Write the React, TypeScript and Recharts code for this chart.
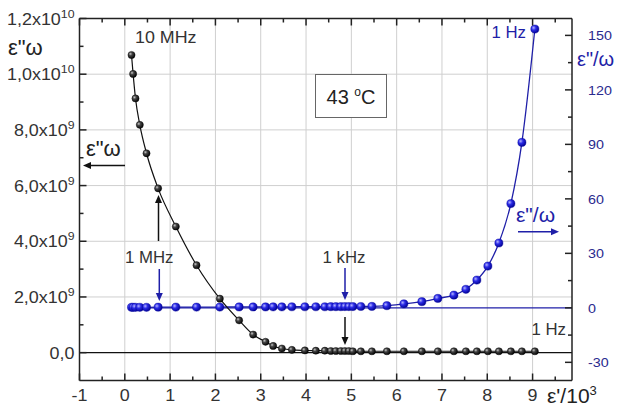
import React from "react";
import { LineChart, Line, XAxis, YAxis, CartesianGrid, ReferenceLine } from "recharts";

// ε' / 10^3 (shared abscissa of both series)
const epsPrime = [
  0.148, 0.183, 0.236, 0.331, 0.479, 0.735, 1.126, 1.583, 2.097, 2.523,
  2.832, 3.106, 3.274, 3.466, 3.687, 3.974, 4.216, 4.415, 4.547, 4.658,
  4.768, 4.857, 4.945, 5.033, 5.21, 5.453, 5.784, 6.159, 6.556, 6.909,
  7.263, 7.528, 7.77, 8.013, 8.256, 8.521, 8.764, 9.05,
];
// ε''ω (left axis)
const epsOmega = [
  1.069e10, 1.001e10, 9.13e9, 8.18e9, 7.16e9, 5.9e9, 4.53e9, 3.14e9, 1.94e9, 1.16e9,
  6.5e8, 3.9e8, 2.4e8, 1.5e8, 1.0e8, 8e7, 7e7, 7e7, 6e7, 6e7,
  6e7, 6e7, 6e7, 5e7, 5e7, 5e7, 5e7, 5e7, 5e7, 5e7,
  5e7, 5e7, 5e7, 5e7, 5e7, 5e7, 5e7, 5e7,
];
// ε''/ω (right axis)
const epsOverOmega = [
  0.3, 0.3, 0.3, 0.3, 0.3, 0.35, 0.4, 0.4, 0.45, 0.5,
  0.5, 0.5, 0.55, 0.55, 0.6, 0.6, 0.6, 0.6, 0.65, 0.65,
  0.65, 0.7, 0.7, 0.7, 0.75, 0.8, 1.2, 2.2, 3.4, 5.2,
  7.0, 10.2, 15.3, 23.0, 35.7, 57.4, 91.1, 153.5,
];

const xTicks = [-1, -0.5, 0, 0.5, 1, 1.5, 2, 2.5, 3, 3.5, 4, 4.5, 5, 5.5, 6, 6.5, 7, 7.5, 8, 8.5, 9, 9.5];
const xGrid = [0, 1, 2, 3, 4, 5, 6, 7, 8, 9];
const leftTicks = [0, 1e9, 2e9, 3e9, 4e9, 5e9, 6e9, 7e9, 8e9, 9e9, 1e10, 1.1e10, 1.2e10];
const leftGrid = [2e9, 4e9, 6e9, 8e9, 1e10];
const rightTicks = [-30, -15, 0, 15, 30, 45, 60, 75, 90, 105, 120, 135, 150];

const X_DOMAIN: [number, number] = [-1, 9.87];
const LEFT_DOMAIN: [number, number] = [-1e9, 1.2e10];
const RIGHT_DOMAIN: [number, number] = [-40, 159.3];

const data = epsPrime.map((x, i) => ({ x, a: epsOmega[i], b: epsOverOmega[i] }));

const FONT = "'Liberation Sans', Arial, Helvetica, sans-serif";
const AXIS = "#222";
const NAVY = "#2a2a8e";
const BLUE = "#1f1fa8";

const isMajorHalf = (v: number) => Math.abs(v - Math.round(v)) < 1e-6;

const BottomTick = (p: any) => {
  const { x, y, payload } = p;
  const v = payload.value;
  const major = isMajorHalf(v);
  return (
    <g>
      <line x1={x} x2={x} y1={y} y2={y - (major ? 7 : 4)} stroke={AXIS} strokeWidth={1.5} />
      {major && (
        <text
          transform={`translate(${x},${y + 20}) scale(1.12,1)`}
          textAnchor="middle"
          fontFamily={FONT}
          fontSize={16}
          fill="#333"
        >
          {v}
        </text>
      )}
    </g>
  );
};

const TopTick = (p: any) => {
  const { x, y, payload } = p;
  const major = isMajorHalf(payload.value);
  return <line x1={x} x2={x} y1={y} y2={y + (major ? 7 : 4)} stroke={AXIS} strokeWidth={1.5} />;
};

const LeftTick = (p: any) => {
  const { x, y, payload } = p;
  const v = payload.value as number;
  const major = Math.round(v / 1e9) % 2 === 0;
  let label: React.ReactNode = null;
  if (major) {
    if (v === 0) {
      label = "0,0";
    } else {
      const e = Math.floor(Math.log10(v) + 1e-9);
      const m = (v / Math.pow(10, e)).toFixed(1).replace(".", ",");
      label = (
        <>
          {m + "x10"}
          <tspan dy={-7} fontSize={11}>
            {e}
          </tspan>
        </>
      );
    }
  }
  return (
    <g>
      <line x1={x} x2={x + (major ? 7 : 4)} y1={y} y2={y} stroke={AXIS} strokeWidth={1.5} />
      {major && (
        <text
          transform={`translate(${x - 5},${y + 6}) scale(1.12,1)`}
          textAnchor="end"
          fontFamily={FONT}
          fontSize={16}
          fill="#333"
        >
          {label}
        </text>
      )}
    </g>
  );
};

const RightTick = (p: any) => {
  const { x, y, payload } = p;
  const v = payload.value as number;
  const major = v % 30 === 0;
  return (
    <g>
      <line x1={x} x2={x - (major ? 7 : 4)} y1={y} y2={y} stroke={AXIS} strokeWidth={1.5} />
      {major && (
        <text
          transform={`translate(${x + 16},${y + 5}) scale(1.1,1)`}
          textAnchor="start"
          fontFamily={FONT}
          fontSize={13}
          fill={NAVY}
        >
          {v}
        </text>
      )}
    </g>
  );
};

const Arrow = ({ x1, y1, x2, y2, color }: any) => {
  const ang = Math.atan2(y2 - y1, x2 - x1);
  const L = 8;
  const W = 3.5;
  const bx = x2 - L * Math.cos(ang);
  const by = y2 - L * Math.sin(ang);
  const px = -Math.sin(ang) * W;
  const py = Math.cos(ang) * W;
  return (
    <g>
      <line x1={x1} y1={y1} x2={bx} y2={by} stroke={color} strokeWidth={1.5} />
      <polygon points={`${x2},${y2} ${bx + px},${by + py} ${bx - px},${by - py}`} fill={color} />
    </g>
  );
};

const blackDot = (p: any) => (
  <circle key={`k${p.index}`} cx={p.cx} cy={p.cy} r={3.6} fill="url(#sphK)" stroke="#000" strokeWidth={0.4} />
);
const blueDot = (p: any) => (
  <circle key={`b${p.index}`} cx={p.cx} cy={p.cy} r={4.1} fill="url(#sphB)" stroke="#0000a0" strokeWidth={0.4} />
);

export default function App() {
  return (
    <div style={{ position: "absolute", left: 0, top: 0, width: 630, height: 410, background: "#fff" }}>
      <svg width={0} height={0} style={{ position: "absolute" }}>
        <defs>
          <radialGradient id="sphK" cx="0.35" cy="0.35" r="0.7">
            <stop offset="0" stopColor="#c8c8c8" />
            <stop offset="0.35" stopColor="#444" />
            <stop offset="1" stopColor="#000" />
          </radialGradient>
          <radialGradient id="sphB" cx="0.35" cy="0.35" r="0.7">
            <stop offset="0" stopColor="#b4b4ff" />
            <stop offset="0.4" stopColor="#2b2be6" />
            <stop offset="1" stopColor="#000090" />
          </radialGradient>
        </defs>
      </svg>
      <LineChart
        width={630}
        height={410}
        data={data}
        margin={{ top: 17.5, right: 0, left: 0, bottom: 0 }}
        style={{ position: "absolute", left: 0, top: 0 }}
      >
        <CartesianGrid
          xAxisId={0}
          yAxisId="left"
          stroke="#cfcfcf"
          strokeWidth={1}
          verticalValues={xGrid}
          horizontalValues={leftGrid}
        />
        <XAxis
          xAxisId={0}
          type="number"
          dataKey="x"
          domain={X_DOMAIN}
          allowDataOverflow
          ticks={xTicks}
          interval={0}
          height={29.5}
          tickLine={false}
          tickSize={0}
          tickMargin={0}
          axisLine={{ stroke: AXIS, strokeWidth: 1.5 }}
          tick={(p: any) => <BottomTick {...p} />}
        />
        <XAxis
          xAxisId="top"
          orientation="top"
          type="number"
          dataKey="x"
          domain={X_DOMAIN}
          allowDataOverflow
          ticks={xTicks}
          interval={0}
          height={1}
          tickLine={false}
          tickSize={0}
          tickMargin={0}
          axisLine={{ stroke: AXIS, strokeWidth: 1.5 }}
          tick={(p: any) => <TopTick {...p} />}
        />
        <YAxis
          yAxisId="left"
          type="number"
          domain={LEFT_DOMAIN}
          allowDataOverflow
          ticks={leftTicks}
          interval={0}
          width={79.5}
          tickLine={false}
          tickSize={0}
          tickMargin={0}
          axisLine={{ stroke: AXIS, strokeWidth: 1.5 }}
          tick={(p: any) => <LeftTick {...p} />}
        />
        <YAxis
          yAxisId="right"
          orientation="right"
          type="number"
          domain={RIGHT_DOMAIN}
          allowDataOverflow
          ticks={rightTicks}
          interval={0}
          width={58}
          tickLine={false}
          tickSize={0}
          tickMargin={0}
          axisLine={{ stroke: AXIS, strokeWidth: 1.5 }}
          tick={(p: any) => <RightTick {...p} />}
        />
        <ReferenceLine yAxisId="left" y={0} stroke="#111" strokeWidth={1.3} />
        <ReferenceLine
          yAxisId="right"
          segment={[
            { x: epsPrime[0], y: 0 },
            { x: X_DOMAIN[1], y: 0 },
          ]}
          stroke={BLUE}
          strokeWidth={1.3}
        />
        <Line
          yAxisId="right"
          type="monotone"
          dataKey="b"
          stroke={BLUE}
          strokeWidth={1.3}
          dot={blueDot}
          activeDot={false}
          isAnimationActive={false}
        />
        <Line
          yAxisId="left"
          type="monotone"
          dataKey="a"
          stroke="#111"
          strokeWidth={1.2}
          dot={blackDot}
          activeDot={false}
          isAnimationActive={false}
        />
      </LineChart>
      <svg
        width={630}
        height={410}
        style={{ position: "absolute", left: 0, top: 0, pointerEvents: "none" }}
        fontFamily={FONT}
      >
        {/* left axis title */}
        <text x={8} y={55} fontSize={22} fill="#222">ε"ω</text>
        <text x={86} y={156} fontSize={22} fill="#222">ε"ω</text>
        <Arrow x1={125} y1={165.5} x2={83} y2={165.5} color="#111" />

        <text transform="translate(135,42.5) scale(1.05,1)" fontSize={17} fill="#333">10 MHz</text>

        <rect x={315.5} y={74.5} width={71} height={43} fill="#fff" stroke="#666" strokeWidth={1} />
        <text x={351} y={104} textAnchor="middle" fontSize={20} fill="#222">
          43 <tspan dy={-8} fontSize={12}>o</tspan>
          <tspan dy={8}>C</tspan>
        </text>

        <text transform="translate(125,263) scale(1.05,1)" fontSize={16} fill="#333">1 MHz</text>
        <Arrow x1={159.3} y1={269} x2={159.3} y2={301} color={BLUE} />
        <Arrow x1={158.5} y1={241} x2={158.5} y2={195} color="#111" />

        <text transform="translate(322.5,263) scale(1.05,1)" fontSize={16} fill="#333">1 kHz</text>
        <Arrow x1={345} y1={268} x2={345} y2={300} color={BLUE} />
        <Arrow x1={345} y1={317} x2={345} y2={345} color="#111" />

        <text transform="translate(491.5,38) scale(1.05,1)" fontSize={16} fill={BLUE}>1 Hz</text>
        <text transform="translate(531.5,335) scale(1.05,1)" fontSize={16} fill="#333">1 Hz</text>

        <text x={516} y={222} fontSize={21} fill={BLUE}>ε"/ω</text>
        <Arrow x1={518} y1={231.7} x2={559} y2={231.7} color={BLUE} />

        <text x={577} y={66} fontSize={20} fill={BLUE}>ε"/ω</text>

        <text x={547} y={403} fontSize={21} fill="#222">
          ε'/10<tspan dy={-8} fontSize={13}>3</tspan>
        </text>
      </svg>
    </div>
  );
}
